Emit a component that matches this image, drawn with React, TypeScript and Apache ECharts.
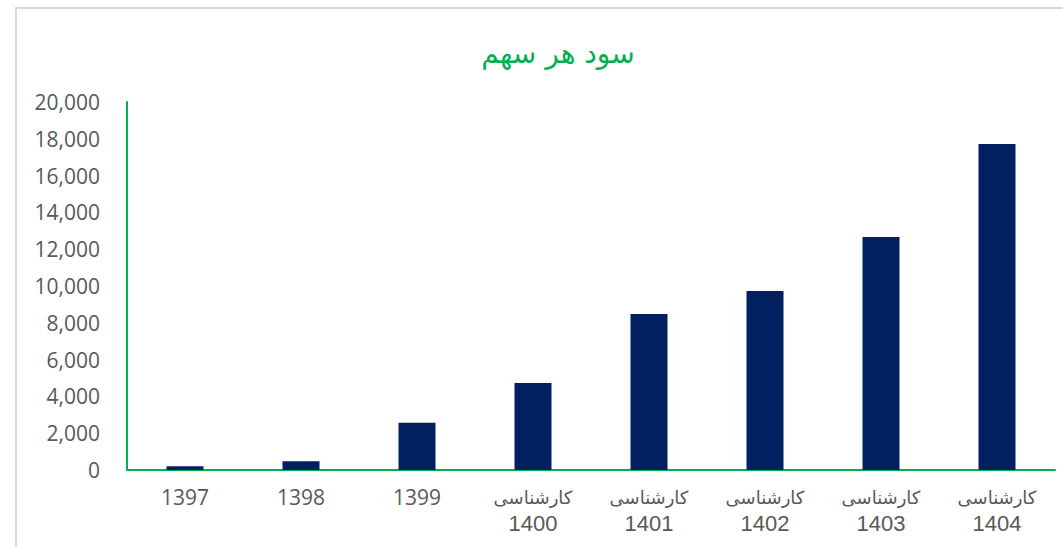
import React, { useEffect, useRef } from "react";
import * as echarts from "echarts";

const titleText = "سود هر سهم";
const categories = [
  "1397",
  "1398",
  "1399",
  "کارشناسی\n1400",
  "کارشناسی\n1401",
  "کارشناسی\n1402",
  "کارشناسی\n1403",
  "کارشناسی\n1404",
];
const values = [200, 470, 2570, 4730, 8480, 9730, 12660, 17720];
const yMax = 20000;
const yInterval = 2000;

export default function App() {
  const ref = useRef<HTMLDivElement>(null);
  useEffect(() => {
    if (!ref.current) return;
    const chart = echarts.init(ref.current, undefined, { renderer: "svg" });
    chart.setOption({
      animation: false,
      backgroundColor: "#ffffff",
      title: {
        text: titleText,
        left: 553,
        top: 34,
        textAlign: "center",
        textStyle: {
          color: "#00B050",
          fontFamily: "DejaVu Sans",
          fontSize: 28,
          fontWeight: "normal",
        },
      },
      graphic: [
        {
          type: "rect",
          shape: { x: 16, y: 8, width: 1200, height: 700 },
          style: { fill: "none", stroke: "#d9d9d9", lineWidth: 2 },
          silent: true,
        },
      ],
      grid: {
        left: 127,
        right: 8,
        top: 102,
        bottom: 77,
        containLabel: false,
        outerBoundsMode: "none",
      },
      xAxis: {
        type: "category",
        data: categories,
        axisLine: { show: true, lineStyle: { color: "#00B050", width: 2 } },
        axisTick: { show: false },
        splitLine: { show: false },
        axisLabel: {
          interval: 0,
          margin: 14,
          color: "#595959",
          formatter: (v: string) => {
            if (v.indexOf("\n") >= 0) {
              const [a, b] = v.split("\n");
              return `{p|${a}}\n{n|${b}}`;
            }
            return `{y|${v}}`;
          },
          rich: {
            y: {
              fontFamily: "Open Sans",
              fontSize: 21,
              color: "#595959",
              lineHeight: 26,
            },
            p: {
              fontFamily: "DejaVu Sans",
              fontSize: 18,
              color: "#595959",
              lineHeight: 26,
            },
            n: {
              fontFamily: "Liberation Sans",
              fontSize: 22,
              color: "#595959",
              lineHeight: 26,
            },
          },
        },
      },
      yAxis: {
        type: "value",
        min: 0,
        max: yMax,
        interval: yInterval,
        axisLine: { show: true, lineStyle: { color: "#00B050", width: 2 } },
        axisTick: { show: false },
        splitLine: { show: false },
        axisLabel: {
          margin: 27,
          color: "#595959",
          fontFamily: "Open Sans",
          fontSize: 21,
          formatter: (v: number) => v.toLocaleString("en-US"),
        },
      },
      series: [
        {
          type: "bar",
          data: values,
          barWidth: 37,
          itemStyle: { color: "#002060" },
        },
      ],
    });
    return () => chart.dispose();
  }, []);
  return (
    <div
      ref={ref}
      style={{ position: "fixed", left: 0, top: 0, width: 1063, height: 547 }}
    />
  );
}
